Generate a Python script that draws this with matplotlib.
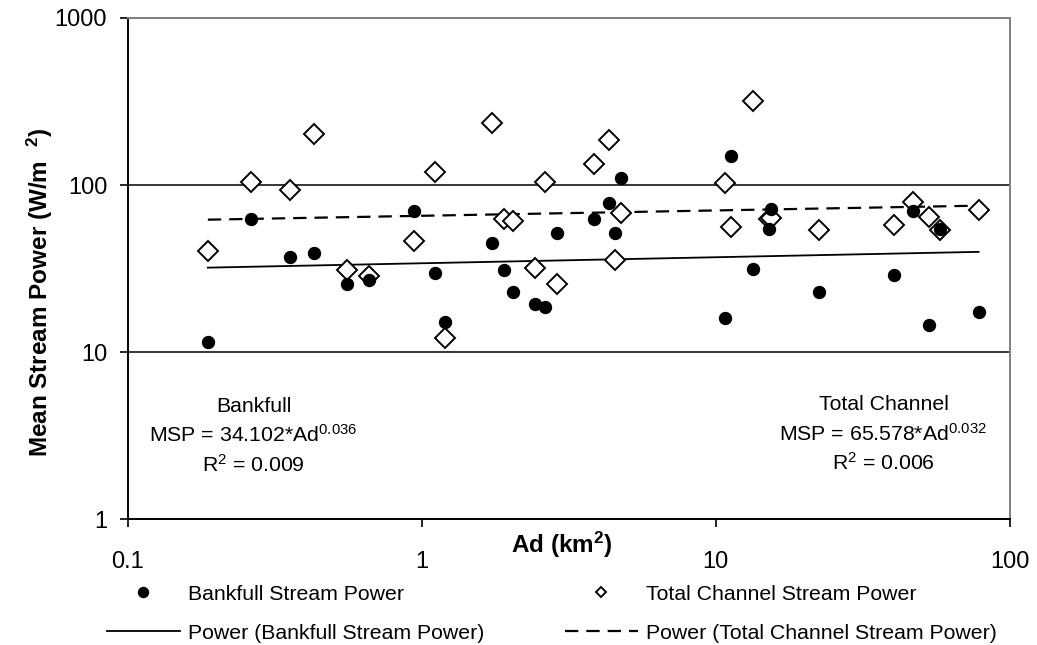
import numpy as np
import matplotlib
matplotlib.use("Agg")
import matplotlib.pyplot as plt
from matplotlib.lines import Line2D
from matplotlib.ticker import NullLocator

plt.rcParams['font.family'] = ['Liberation Sans', 'DejaVu Sans']
plt.rcParams['mathtext.fontset'] = 'custom'
plt.rcParams['mathtext.rm'] = 'Liberation Sans'
plt.rcParams['mathtext.it'] = 'Liberation Sans:italic'
plt.rcParams['mathtext.bf'] = 'Liberation Sans:bold'

# drainage area (km2) of each site
ad = [0.187, 0.262, 0.355, 0.43, 0.555, 0.662, 0.94, 1.105, 1.20, 1.73,
      1.91, 2.04, 2.42, 2.63, 2.89, 3.85, 4.32, 4.53, 4.76, 10.75,
      11.25, 13.45, 15.2, 15.4, 22.4, 40.6, 46.8, 53.4, 58.0, 78.5]
# mean stream power (W/m2)
bankfull = [11.6, 62.8, 37.4, 39.4, 25.5, 26.9, 70.0, 30.0, 15.2, 45.2,
            30.9, 23.0, 19.5, 18.6, 51.6, 63.1, 77.7, 51.6, 110.5, 16.1,
            149, 31.6, 54.7, 71.9, 23.0, 29.2, 70.3, 14.5, 54.7, 17.5]
total = [40.5, 104.4, 93.6, 201, 31.2, 28.8, 46.5, 120.5, 12.2, 236.6,
         62.8, 61.0, 31.8, 104.4, 25.6, 133.6, 185.6, 35.5, 68.1, 102.9,
         56.2, 318, 62.5, 63.4, 53.8, 57.5, 79.3, 64.9, 54.1, 71.3]

# power-law fits shown on the chart
bf_coef, bf_exp, bf_r2 = 34.102, 0.036, 0.009
tc_coef, tc_exp, tc_r2 = 65.578, 0.032, 0.006

fig = plt.figure(figsize=(10.37, 6.45), dpi=100)
ax = fig.add_axes([0.1234, 0.1946, 0.8501, 0.7775])
ax.set_xscale('log')
ax.set_yscale('log')
ax.set_xlim(0.1, 100)
ax.set_ylim(1, 1000)

xfit = np.geomspace(min(ad), max(ad), 200)
ax.plot(xfit, bf_coef * xfit ** bf_exp, color='black', lw=1.3, zorder=3)
ax.plot(xfit, tc_coef * xfit ** tc_exp, color='black', lw=1.6,
        dashes=(6, 3.6), zorder=3)

ax.plot(ad, total, ls='none', marker='D', ms=10, mfc='white', mec='black',
        mew=1.4, zorder=4)
ax.plot(ad, bankfull, ls='none', marker='o', ms=8.6, color='black', zorder=5)

# axes styling
ax.set_xticks([0.1, 1, 10, 100])
ax.set_xticklabels(['0.1', '1', '10', '100'])
ax.set_yticks([1, 10, 100, 1000])
ax.set_yticklabels(['1', '10', '100', '1000'])
ax.xaxis.set_minor_locator(NullLocator())
ax.yaxis.set_minor_locator(NullLocator())
ax.tick_params(axis='both', direction='out', length=6, width=1.2,
               labelsize=17, color='black')
ax.tick_params(axis='x', pad=17)
ax.tick_params(axis='y', pad=9)
ax.yaxis.grid(True, color='black', lw=1.1)
ax.set_axisbelow(True)
for side in ['left', 'bottom']:
    ax.spines[side].set_color('black')
    ax.spines[side].set_linewidth(1.4)
for side in ['top', 'right']:
    ax.spines[side].set_color('#808080')
    ax.spines[side].set_linewidth(1.4)

ax.set_xlabel(r'Ad (km$^{\mathbf{2}}$)', fontsize=17.5, fontweight='bold',
              va='center')
ax.xaxis.set_label_coords(0.492, -0.05)
ax.set_ylabel(r'Mean Stream Power (W/m  $^{\mathbf{2}}$)', fontsize=17.5,
              fontweight='bold', va='center')
ax.yaxis.set_label_coords(-0.0995, 0.452)

# equation annotations
fs = 15.3
ax.text(0.1424, 0.226, 'Bankfull', transform=ax.transAxes, ha='center',
        va='center', fontsize=fs)
ax.text(0.1424, 0.168, 'MSP = %.3f*Ad$^{%.3f}$' % (bf_coef, bf_exp),
        transform=ax.transAxes, ha='center', va='center', fontsize=fs)
ax.text(0.1424, 0.108, 'R$^{2}$ = %.3f' % bf_r2, transform=ax.transAxes,
        ha='center', va='center', fontsize=fs)

ax.text(0.858, 0.230, 'Total Channel', transform=ax.transAxes, ha='center',
        va='center', fontsize=fs)
ax.text(0.856, 0.170, 'MSP = %.3f*Ad$^{%.3f}$' % (tc_coef, tc_exp),
        transform=ax.transAxes, ha='center', va='center', fontsize=fs)
ax.text(0.857, 0.112, 'R$^{2}$ = %.3f' % tc_r2, transform=ax.transAxes,
        ha='center', va='center', fontsize=fs)

# legend, laid out in two columns below the axis
h_bf = Line2D([], [], ls='none', marker='o', ms=7.2, color='black')
h_bf_fit = Line2D([], [], color='black', lw=1.3)
h_tc = Line2D([], [], ls='none', marker='D', ms=5, mfc='white', mec='black',
              mew=1.4)
h_tc_fit = Line2D([], [], color='black', lw=1.6, dashes=(6, 3.6))

leg_kw = dict(loc='center left', frameon=False, fontsize=fs,
              handlelength=3.43, handletextpad=0.38, labelspacing=0.94,
              borderpad=0, borderaxespad=0)
leg1 = fig.legend([h_bf, h_bf_fit],
                  ['Bankfull Stream Power', 'Power (Bankfull Stream Power)'],
                  bbox_to_anchor=(107 / 1037, 0.0488), **leg_kw)
leg2 = fig.legend([h_tc, h_tc_fit],
                  ['Total Channel Stream Power',
                   'Power (Total Channel Stream Power)'],
                  bbox_to_anchor=(565 / 1037, 0.0488), **leg_kw)

fig.savefig('out.png', dpi=100)
